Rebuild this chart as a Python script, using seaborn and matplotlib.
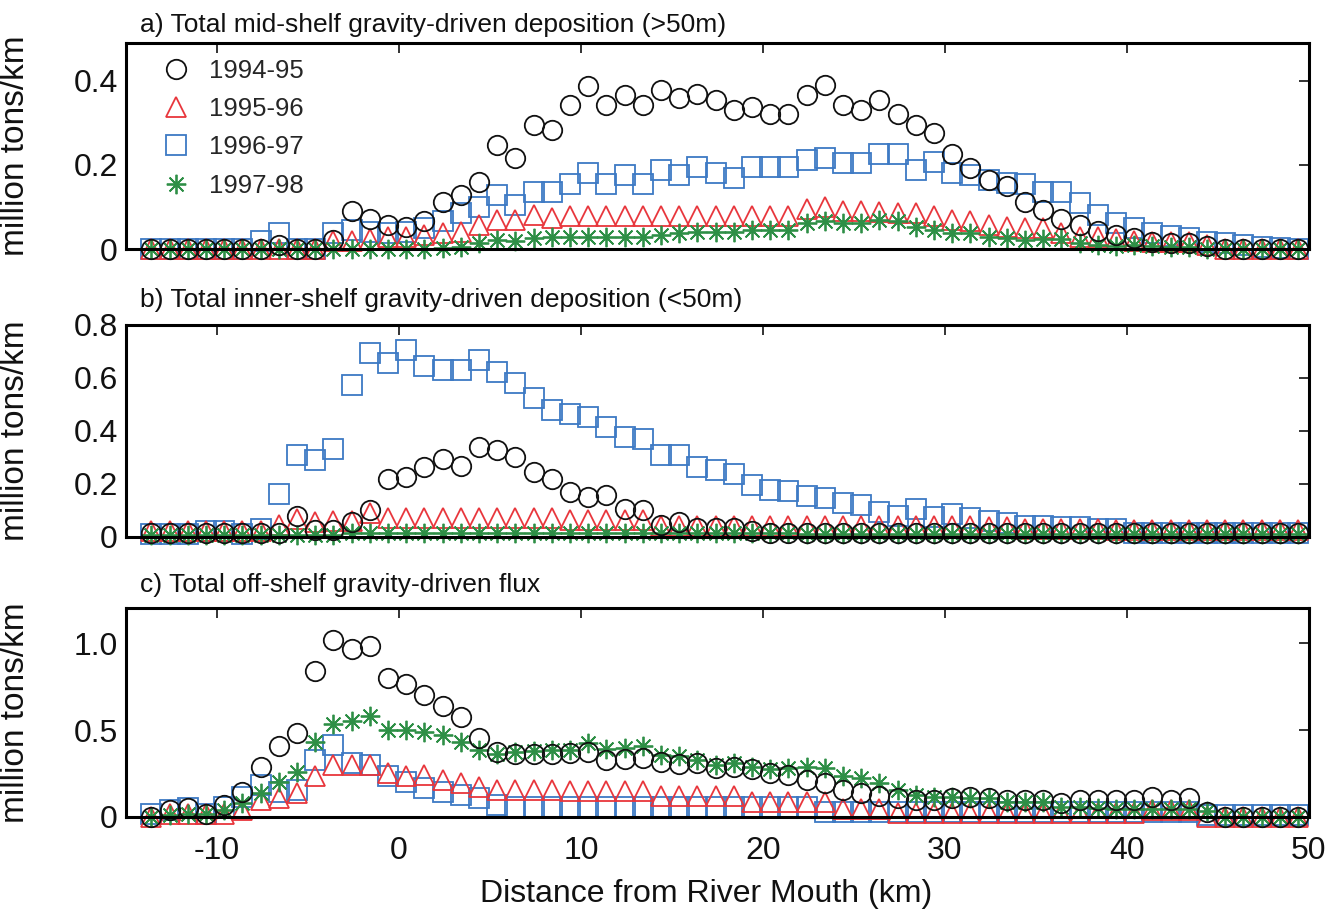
import numpy as np
import pandas as pd
import matplotlib
matplotlib.use("Agg")
import matplotlib.pyplot as plt
import seaborn as sns

# ---------------- data ----------------
x_start = -13.6          # first sample position (km)
n_pts = 64               # samples every 1 km
distance = x_start + np.arange(n_pts)

years = ["1994-95", "1995-96", "1996-97", "1997-98"]

# a) mid-shelf deposition (>50 m)
mid_9495 = [0, 0, 0, 0, 0, 0, 0, 0.01, 0, 0,
            0.022, 0.09, 0.072, 0.058, 0.052, 0.067, 0.111, 0.129, 0.159, 0.247,
            0.217, 0.294, 0.284, 0.343, 0.387, 0.343, 0.365, 0.343, 0.377, 0.36,
            0.369, 0.353, 0.33, 0.338, 0.322, 0.32, 0.365, 0.389, 0.343, 0.33,
            0.353, 0.322, 0.294, 0.277, 0.225, 0.192, 0.164, 0.15, 0.113, 0.093,
            0.073, 0.058, 0.043, 0.034, 0.026, 0.018, 0.014, 0.014, 0.007, 0,
            0, 0, 0, 0]
mid_9596 = [0, 0, 0, 0, 0, 0, 0, 0, 0, 0,
            0.02, 0.02, 0.025, 0.03, 0.03, 0.035, 0.038, 0.042, 0.058, 0.069,
            0.069, 0.081, 0.074, 0.08, 0.08, 0.08, 0.08, 0.08, 0.08, 0.08,
            0.08, 0.08, 0.08, 0.08, 0.08, 0.08, 0.095, 0.1, 0.09, 0.09,
            0.088, 0.085, 0.085, 0.078, 0.069, 0.066, 0.058, 0.053, 0.05, 0.05,
            0.038, 0.03, 0.03, 0.025, 0.02, 0.018, 0.018, 0.018, 0.01, 0,
            0, 0, 0, 0]
mid_9697 = [0, 0, 0, 0, 0, 0, 0.02, 0.038, 0, 0,
            0.038, 0.046, 0.042, 0.038, 0.042, 0.05, 0.067, 0.085, 0.101, 0.129,
            0.105, 0.137, 0.137, 0.156, 0.18, 0.156, 0.176, 0.156, 0.188, 0.176,
            0.196, 0.18, 0.168, 0.196, 0.196, 0.196, 0.211, 0.217, 0.204, 0.204,
            0.225, 0.225, 0.188, 0.207, 0.18, 0.176, 0.164, 0.158, 0.156, 0.137,
            0.137, 0.109, 0.081, 0.062, 0.05, 0.038, 0.031, 0.026, 0.018, 0.014,
            0.01, 0.005, 0.003, 0]
mid_9798 = [0, 0, 0, 0, 0, 0, 0, 0, 0, 0,
            0, 0, 0, 0, 0, 0, 0.003, 0.005, 0.014, 0.021,
            0.02, 0.026, 0.03, 0.03, 0.03, 0.03, 0.03, 0.03, 0.034, 0.038,
            0.04, 0.042, 0.042, 0.046, 0.046, 0.046, 0.062, 0.067, 0.062, 0.062,
            0.069, 0.067, 0.054, 0.046, 0.038, 0.038, 0.03, 0.026, 0.021, 0.025,
            0.025, 0.016, 0.01, 0.008, 0.01, 0.008, 0.005, 0.005, 0, 0,
            0, 0, 0, 0]

# b) inner-shelf deposition (<50 m)
inner_9495 = [0.015, 0.015, 0.015, 0.015, 0.015, 0.015, 0.015, 0.015, 0.08, 0.025,
              0.025, 0.056, 0.1, 0.219, 0.225, 0.263, 0.294, 0.269, 0.338, 0.328,
              0.303, 0.244, 0.219, 0.169, 0.15, 0.156, 0.103, 0.1, 0.044, 0.056,
              0.031, 0.031, 0.031, 0.02, 0.013, 0.013, 0.013, 0.013, 0.013, 0.013,
              0.013, 0.013, 0.013, 0.013, 0.013, 0.013, 0.013, 0.013, 0.013, 0.013,
              0.013, 0.013, 0.013, 0.013, 0.013, 0.013, 0.013, 0.013, 0.013, 0.013,
              0.013, 0.013, 0.013, 0.013]
inner_9596 = [0.02, 0.02, 0.02, 0.02, 0.02, 0.02, 0.02, 0.044, 0.066, 0.055,
              0.06, 0.06, 0.089, 0.07, 0.07, 0.07, 0.07, 0.07, 0.07, 0.07,
              0.07, 0.07, 0.07, 0.064, 0.064, 0.064, 0.064, 0.064, 0.04, 0.04,
              0.04, 0.04, 0.04, 0.04, 0.04, 0.04, 0.04, 0.04, 0.04, 0.04,
              0.04, 0.04, 0.04, 0.04, 0.04, 0.04, 0.035, 0.035, 0.03, 0.03,
              0.03, 0.03, 0.03, 0.025, 0.025, 0.025, 0.025, 0.025, 0.025, 0.025,
              0.025, 0.025, 0.025, 0.025]
inner_9697 = [0.01, 0.01, 0.01, 0.02, 0.02, 0.01, 0.03, 0.162, 0.309, 0.288,
              0.331, 0.574, 0.693, 0.658, 0.706, 0.645, 0.63, 0.63, 0.668, 0.624,
              0.58, 0.523, 0.479, 0.463, 0.452, 0.416, 0.378, 0.369, 0.309, 0.309,
              0.265, 0.253, 0.238, 0.196, 0.177, 0.171, 0.155, 0.146, 0.127, 0.121,
              0.095, 0.077, 0.105, 0.074, 0.087, 0.07, 0.058, 0.05, 0.04, 0.04,
              0.035, 0.035, 0.03, 0.03, 0.015, 0.015, 0.015, 0.015, 0.015, 0.015,
              0.015, 0.015, 0.015, 0.015]
inner_9798 = [0.005, 0.005, 0.005, 0.005, 0.005, 0.005, 0.005, 0.005, 0.005, 0.005,
              0.005, 0.015, 0.015, 0.015, 0.015, 0.015, 0.015, 0.015, 0.015, 0.015,
              0.015, 0.015, 0.015, 0.015, 0.015, 0.015, 0.015, 0.015, 0.015, 0.015,
              0.015, 0.015, 0.015, 0.015, 0.015, 0.015, 0.01, 0.01, 0.01, 0.01,
              0.01, 0.01, 0.01, 0.01, 0.01, 0.01, 0.01, 0.01, 0.01, 0.01,
              0.01, 0.01, 0.01, 0.01, 0.01, 0.01, 0.01, 0.01, 0.01, 0.01,
              0.01, 0.01, 0.01, 0.01]

# c) off-shelf flux
off_9495 = [0, 0.04, 0.05, 0.02, 0.07, 0.146, 0.29, 0.406, 0.483, 0.838,
            1.017, 0.968, 0.983, 0.80, 0.767, 0.704, 0.64, 0.575, 0.454, 0.371,
            0.364, 0.364, 0.364, 0.366, 0.371, 0.329, 0.333, 0.338, 0.319, 0.306,
            0.31, 0.281, 0.29, 0.275, 0.252, 0.242, 0.214, 0.194, 0.156, 0.136,
            0.121, 0.108, 0.098, 0.098, 0.108, 0.117, 0.108, 0.095, 0.098, 0.098,
            0.079, 0.098, 0.098, 0.098, 0.1, 0.117, 0.098, 0.108, 0.03, 0,
            0, 0, 0, 0]
off_9596 = [0, 0.02, 0.02, 0.02, 0.02, 0.04, 0.098, 0.108, 0.137, 0.233,
            0.3, 0.3, 0.3, 0.252, 0.237, 0.242, 0.214, 0.194, 0.175, 0.156,
            0.156, 0.156, 0.156, 0.15, 0.15, 0.15, 0.15, 0.15, 0.12, 0.12,
            0.12, 0.12, 0.12, 0.085, 0.085, 0.085, 0.085, 0.085, 0.045, 0.045,
            0.045, 0.025, 0.025, 0.025, 0.025, 0.025, 0.025, 0.025, 0.025, 0.025,
            0.025, 0.025, 0.025, 0.025, 0.025, 0.04, 0.04, 0.04, 0, 0,
            0, 0, 0, 0]
off_9697 = [0.02, 0.04, 0.05, 0.02, 0.06, 0.117, 0.185, 0.146, 0.156, 0.329,
            0.415, 0.31, 0.3, 0.233, 0.204, 0.165, 0.146, 0.127, 0.108, 0.069,
            0.06, 0.06, 0.06, 0.06, 0.06, 0.06, 0.06, 0.06, 0.06, 0.06,
            0.06, 0.06, 0.06, 0.06, 0.06, 0.06, 0.06, 0.03, 0.03, 0.03,
            0.03, 0.03, 0.03, 0.03, 0.03, 0.03, 0.03, 0.03, 0.03, 0.03,
            0.03, 0.03, 0.03, 0.03, 0.03, 0.03, 0.03, 0.03, 0.01, 0.01,
            0.01, 0.01, 0.01, 0.01]
off_9798 = [0, 0.01, 0.02, 0.02, 0.04, 0.079, 0.137, 0.204, 0.261, 0.434,
            0.537, 0.55, 0.583, 0.502, 0.498, 0.486, 0.473, 0.434, 0.387, 0.364,
            0.371, 0.377, 0.383, 0.387, 0.425, 0.39, 0.396, 0.406, 0.358, 0.348,
            0.329, 0.3, 0.31, 0.29, 0.275, 0.281, 0.29, 0.281, 0.233, 0.223,
            0.194, 0.156, 0.127, 0.117, 0.117, 0.108, 0.108, 0.088, 0.088, 0.088,
            0.06, 0.06, 0.05, 0.045, 0.045, 0.045, 0.045, 0.045, 0.035, 0,
            0, 0, 0, 0]

titles = ["a) Total mid-shelf gravity-driven deposition (>50m)",
          "b) Total inner-shelf gravity-driven deposition (<50m)",
          "c) Total off-shelf gravity-driven flux"]
ylims = [0.49, 0.80, 1.2]
yticks = [[0, 0.2, 0.4], [0, 0.2, 0.4, 0.6, 0.8], [0, 0.5, 1.0]]
yticklabels = [["0", "0.2", "0.4"], ["0", "0.2", "0.4", "0.6", "0.8"], ["0", "0.5", "1.0"]]
xticks = [-10, 0, 10, 20, 30, 40, 50]
panels = [[mid_9495, mid_9596, mid_9697, mid_9798],
          [inner_9495, inner_9596, inner_9697, inner_9798],
          [off_9495, off_9596, off_9697, off_9798]]

# ---------------- style ----------------
sns.set_style("white")
plt.rcParams['font.family'] = ['Liberation Sans', 'DejaVu Sans']

colors = ["#111111", "#e8363c", "#3d79c4", "#2e8f46"]
markers = ["o", "^", "s", (8, 2, 0)]
msizes = [14, 14, 14, 14]
zorders = [5, 4, 3, 4.5]
draw_order = [2, 1, 3, 0]

W, H = 1336, 914
fig = plt.figure(figsize=(W / 100, H / 100), dpi=100)
left_px, right_px = 126, 1309
boxes = [(42.7, 249.3), (325, 536.7), (608.3, 817)]
title_gap = [6, 13, 11]

axes = []
for k, (top, bot) in enumerate(boxes):
    ax = fig.add_axes([left_px / W, 1 - bot / H, (right_px - left_px) / W, (bot - top) / H])
    axes.append(ax)
    handles = {}
    for s in draw_order:
        df = pd.DataFrame({"x": distance, "y": panels[k][s]})
        mk = markers[s]
        kw = dict(marker=mk, linestyle="", color=colors[s], markeredgecolor=colors[s],
                  markersize=msizes[s], markeredgewidth=1.3, clip_on=False,
                  zorder=zorders[s], label=years[s])
        if mk in ("o", "^", "s"):
            kw["markerfacecolor"] = "none"
        sns.lineplot(data=df, x="x", y="y", ax=ax, errorbar=None, legend=False, **kw)
        handles[s] = ax.lines[-1]
    ax.set_xlim(-15, 50)
    ax.set_ylim(0, ylims[k])
    ax.set_xticks(xticks)
    ax.set_yticks(yticks[k])
    ax.set_yticklabels(yticklabels[k])
    ax.tick_params(direction="in", top=True, right=True, length=7, width=1.2,
                   labelsize=23, pad=6, colors="#111111")
    ax.tick_params(axis="x", pad=14)
    for sp in ax.spines.values():
        sp.set_linewidth(2.2)
        sp.set_color("black")
        sp.set_zorder(6)
    ax.set_ylabel("million tons/km", fontsize=24, color="#111111")
    ax.yaxis.set_label_coords(-0.0805, 0.5)
    ax.set_xlabel("")
    ax.text(14 / (right_px - left_px), 1 + title_gap[k] / (bot - top), titles[k],
            transform=ax.transAxes, ha="left", va="bottom", fontsize=19, color="#111111")
    if k < 2:
        ax.set_xticklabels([])
    else:
        ax.set_xticklabels([str(t) for t in xticks])
        ax.set_xlabel("Distance from River Mouth (km)", fontsize=23, color="#111111")
        ax.xaxis.set_label_coords(0.49, -0.295)
    if k == 0:
        ax.legend([handles[i] for i in range(4)], years, loc="upper left",
                  bbox_to_anchor=(0.031, 0.92), frameon=False, fontsize=18.5,
                  handlelength=1.0, handletextpad=0.8, labelspacing=0.55,
                  borderaxespad=0, borderpad=0, numpoints=1)

fig.savefig("out.png", dpi=100)
